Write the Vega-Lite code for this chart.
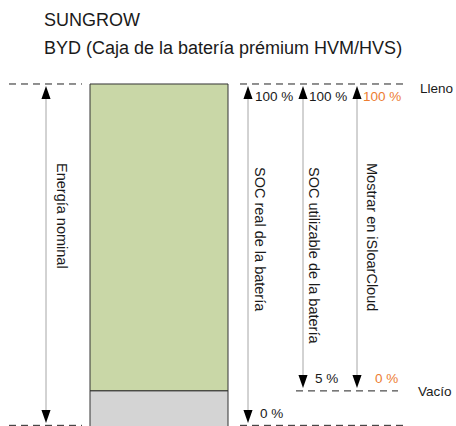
{
  "$schema": "https://vega.github.io/schema/vega-lite/v6.json",
  "width": 456,
  "height": 426,
  "autosize": {"type": "fit", "contains": "padding"},
  "padding": 0,
  "background": "white",
  "config": {"view": {"stroke": null}, "font": "Liberation Sans"},
  "datasets": {
    "box": [
      {"part": "usable", "x0": 90, "x1": 228, "lo": 10, "hi": 100},
      {"part": "reserve", "x0": 90, "x1": 228, "lo": -5, "hi": 10}
    ],
    "guides": [
      {"x0": 9, "x1": 82, "level": 100},
      {"x0": 240, "x1": 404, "level": 100},
      {"x0": 296, "x1": 398, "level": 10},
      {"x0": 9, "x1": 82, "level": -0.1},
      {"x0": 240, "x1": 404, "level": -0.1}
    ],
    "shafts": [
      {"x": 46, "top": 97.5, "bottom": 2.5},
      {"x": 248, "top": 97.5, "bottom": 2.5},
      {"x": 303, "top": 97.5, "bottom": 12.76},
      {"x": 357, "top": 97.5, "bottom": 12.76}
    ],
    "heads": [
      {"x": 46, "level": 97.5, "dir": "up"},
      {"x": 248, "level": 97.5, "dir": "up"},
      {"x": 303, "level": 97.5, "dir": "up"},
      {"x": 357, "level": 97.5, "dir": "up"},
      {"x": 46, "level": 2.5, "dir": "down"},
      {"x": 248, "level": 2.5, "dir": "down"},
      {"x": 303, "level": 12.76, "dir": "down"},
      {"x": 357, "level": 12.76, "dir": "down"}
    ],
    "titles": [
      {"text": "SUNGROW", "x": 44, "level": 117.0},
      {"text": "BYD (Caja de la batería prémium HVM/HVS)", "x": 44, "level": 108.8}
    ],
    "labels": [
      {"text": "100 %", "x": 255, "level": 95.0, "tone": "dark"},
      {"text": "100 %", "x": 309, "level": 95.0, "tone": "dark"},
      {"text": "100 %", "x": 363, "level": 95.0, "tone": "orange"},
      {"text": "0 %", "x": 260, "level": 2.05, "tone": "dark"},
      {"text": "5 %", "x": 315, "level": 12.32, "tone": "dark"},
      {"text": "0 %", "x": 375, "level": 12.32, "tone": "orange"},
      {"text": "Lleno", "x": 420, "level": 97.36, "tone": "dark"},
      {"text": "Vacío", "x": 418, "level": 8.5, "tone": "dark"}
    ],
    "vlabels": [
      {"text": "Energía nominal", "x": 61, "level": 76.83},
      {"text": "SOC real de la batería", "x": 259, "level": 75.66},
      {"text": "SOC utilizable de la batería", "x": 313, "level": 75.66},
      {"text": "Mostrar en iSloarCloud", "x": 371, "level": 76.83}
    ]
  },
  "layer": [
    {
      "data": {"name": "box"},
      "mark": {"type": "rect", "stroke": "#333333", "strokeWidth": 1, "clip": true},
      "encoding": {
        "x": {"field": "x0", "type": "quantitative", "scale": {"domain": [0, 456], "nice": false, "zero": false}, "axis": null},
        "x2": {"field": "x1"},
        "y": {"field": "lo", "type": "quantitative", "scale": {"domain": [-0.293, 124.633], "nice": false, "zero": false}, "axis": null},
        "y2": {"field": "hi"},
        "fill": {"field": "part", "type": "nominal", "scale": {"domain": ["usable", "reserve"], "range": ["#c9d7a7", "#d4d4d4"]}, "legend": null}
      }
    },
    {
      "data": {"name": "guides"},
      "mark": {"type": "rule", "color": "#222222", "strokeWidth": 1, "strokeDash": [7, 5]},
      "encoding": {
        "x": {"field": "x0", "type": "quantitative"},
        "x2": {"field": "x1"},
        "y": {"field": "level", "type": "quantitative"}
      }
    },
    {
      "data": {"name": "shafts"},
      "mark": {"type": "rule", "color": "#a6a6a6", "strokeWidth": 1},
      "encoding": {
        "x": {"field": "x", "type": "quantitative"},
        "y": {"field": "top", "type": "quantitative"},
        "y2": {"field": "bottom"}
      }
    },
    {
      "data": {"name": "heads"},
      "mark": {"type": "point", "filled": true, "color": "#000000", "opacity": 1, "size": 169, "strokeWidth": 0},
      "encoding": {
        "x": {"field": "x", "type": "quantitative"},
        "y": {"field": "level", "type": "quantitative"},
        "shape": {"field": "dir", "type": "nominal", "scale": {"domain": ["up", "down"], "range": ["M0,-1L0.7,1L-0.7,1Z", "M0,1L0.7,-1L-0.7,-1Z"]}, "legend": null}
      }
    },
    {
      "data": {"name": "titles"},
      "mark": {"type": "text", "align": "left", "baseline": "alphabetic", "fontSize": 18, "color": "#1a1a1a"},
      "encoding": {
        "x": {"field": "x", "type": "quantitative"},
        "y": {"field": "level", "type": "quantitative"},
        "text": {"field": "text"}
      }
    },
    {
      "data": {"name": "labels"},
      "mark": {"type": "text", "align": "left", "baseline": "alphabetic", "fontSize": 13.5},
      "encoding": {
        "x": {"field": "x", "type": "quantitative"},
        "y": {"field": "level", "type": "quantitative"},
        "text": {"field": "text"},
        "color": {"field": "tone", "type": "nominal", "scale": {"domain": ["dark", "orange"], "range": ["#1a1a1a", "#ed7d31"]}, "legend": null}
      }
    },
    {
      "data": {"name": "vlabels"},
      "mark": {"type": "text", "align": "left", "baseline": "middle", "angle": 90, "fontSize": 14.5, "color": "#1a1a1a"},
      "encoding": {
        "x": {"field": "x", "type": "quantitative"},
        "y": {"field": "level", "type": "quantitative"},
        "text": {"field": "text"}
      }
    }
  ],
  "resolve": {"scale": {"fill": "independent", "color": "independent", "shape": "independent"}}
}
